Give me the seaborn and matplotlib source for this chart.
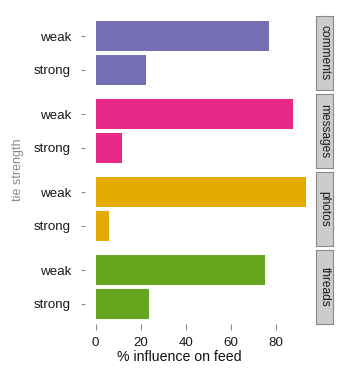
import numpy as np
import pandas as pd
import matplotlib
matplotlib.use("Agg")
import matplotlib.pyplot as plt
import seaborn as sns

# ── Data ────────────────────────────────────────────────────────────────
MEDIA = ["comments", "messages", "photos", "threads"]
STRENGTH = ["weak", "strong"]
WEAK_VALS = [77.0, 87.7, 93.4, 75.3]
STRONG_VALS = [22.4, 11.8, 6.2, 23.9]
X_TICKS = [0, 20, 40, 60, 80]

COLORS = {
    "comments": "#7570b3",
    "messages": "#e7298a",
    "photos": "#e6ab02",
    "threads": "#66a61e",
}

df = pd.DataFrame({
    "media": np.repeat(MEDIA, 2),
    "strength": STRENGTH * len(MEDIA),
    "influence": [v for pair in zip(WEAK_VALS, STRONG_VALS) for v in pair],
})

sns.set_style("white")
plt.rcParams["font.family"] = ["Liberation Sans", "DejaVu Sans"]

W, H = 349, 371
fig = plt.figure(figsize=(W / 100, H / 100), dpi=100)

# ── Layout in pixels ────────────────────────────────────────────────────
panel_left, panel_right = 85, 313.5
strip_left, strip_right = 316, 333
panel_h, step, top0 = 74, 78, 16
zero_px, eighty_px = 95.5, 276
px_per_unit = (eighty_px - zero_px) / 80
xlim = (-(zero_px - panel_left) / px_per_unit, (panel_right - zero_px) / px_per_unit)

for i, m in enumerate(MEDIA):
    top = top0 + i * step
    rect = [panel_left / W, 1 - (top + panel_h) / H,
            (panel_right - panel_left) / W, panel_h / H]
    ax = fig.add_axes(rect)
    sub = df[df["media"] == m]
    sns.barplot(data=sub, x="influence", y="strength", order=STRENGTH,
                color=COLORS[m], saturation=1, width=0.9, ax=ax,
                edgecolor="none", errorbar=None)
    ax.set_xlim(*xlim)
    ax.set_ylim(1.6, -0.6)
    ax.set_xlabel("")
    ax.set_ylabel("")
    for s in ax.spines.values():
        s.set_visible(False)
    ax.tick_params(axis="y", length=3, width=0.8, color="#8c8c8c", pad=7,
                   labelsize=9.6, labelcolor="#1a1a1a", left=True)
    ax.set_xticks(X_TICKS)
    if i == len(MEDIA) - 1:
        ax.tick_params(axis="x", length=4, width=0.8, color="#8c8c8c", pad=5,
                       labelsize=9.6, labelcolor="#1a1a1a", bottom=True)
    else:
        ax.tick_params(axis="x", bottom=False, labelbottom=False)

    # facet strip on the right
    sax = fig.add_axes([strip_left / W, 1 - (top + panel_h) / H,
                        (strip_right - strip_left) / W, panel_h / H])
    sax.set_facecolor("#cccccc")
    sax.set_xticks([])
    sax.set_yticks([])
    for s in sax.spines.values():
        s.set_color("#8a8a8a")
        s.set_linewidth(0.8)
    sax.text(0.5, 0.5, m, rotation=270, ha="center", va="center",
             fontsize=8.6, color="#1a1a1a", transform=sax.transAxes)

fig.text(179 / W, 1 - 357 / H, "% influence on feed", ha="center",
         va="center", fontsize=10.2, color="#111111")
fig.text(18 / W, 1 - 170 / H, "tie strength", rotation=90, ha="center",
         va="center", fontsize=9, color="#8a8a8a")

fig.savefig("out.png", dpi=100)
